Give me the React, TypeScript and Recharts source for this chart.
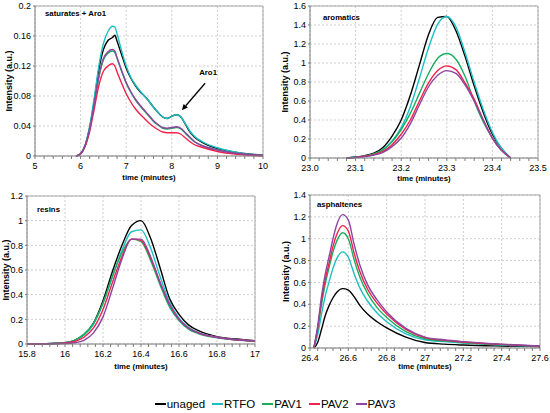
import React from 'react'
import { LineChart, Line, XAxis, YAxis, CartesianGrid, ReferenceLine } from 'recharts'

const SERIES = ['unaged', 'RTFO', 'PAV1', 'PAV2', 'PAV3']
const COLORS = ['#000000', '#1dbfc4', '#19ad5c', '#f2204c', '#8e44a0']
const FONT = '"Liberation Sans", Arial, sans-serif'

// saturates + Aro1
const satTime = [5.9, 6.0, 6.1, 6.2, 6.3, 6.4, 6.5, 6.6, 6.7, 6.75, 6.8, 6.9, 7.0, 7.1, 7.2, 7.3, 7.4, 7.5, 7.6, 7.7, 7.8, 7.9, 8.0, 8.1, 8.2, 8.3, 8.4, 8.5, 8.7, 9.0, 9.5, 10]
const satUnaged = [0, 0.003, 0.014, 0.038, 0.074, 0.115, 0.142, 0.154, 0.158, 0.161, 0.153, 0.135, 0.117, 0.104, 0.094, 0.086, 0.08, 0.073, 0.065, 0.058, 0.052, 0.05, 0.053, 0.055, 0.052, 0.042, 0.032, 0.025, 0.017, 0.01, 0.004, 0.001]
const satRtfo = [0, 0.003, 0.015, 0.04, 0.078, 0.12, 0.15, 0.166, 0.173, 0.172, 0.163, 0.14, 0.12, 0.105, 0.095, 0.087, 0.08, 0.073, 0.065, 0.058, 0.052, 0.05, 0.053, 0.055, 0.052, 0.043, 0.033, 0.026, 0.018, 0.011, 0.004, 0.001]
const satPav1 = [0, 0.003, 0.014, 0.036, 0.07, 0.105, 0.128, 0.137, 0.14, 0.138, 0.13, 0.113, 0.097, 0.085, 0.075, 0.067, 0.06, 0.053, 0.046, 0.041, 0.037, 0.036, 0.037, 0.038, 0.036, 0.03, 0.024, 0.019, 0.013, 0.008, 0.003, 0.001]
const satPav2 = [0, 0.003, 0.013, 0.033, 0.063, 0.094, 0.113, 0.12, 0.123, 0.12, 0.112, 0.097, 0.083, 0.072, 0.063, 0.056, 0.05, 0.044, 0.039, 0.035, 0.032, 0.031, 0.031, 0.031, 0.029, 0.024, 0.019, 0.015, 0.011, 0.006, 0.002, 0]
const satPav3 = [0, 0.003, 0.014, 0.036, 0.07, 0.106, 0.13, 0.139, 0.142, 0.14, 0.131, 0.114, 0.098, 0.086, 0.076, 0.068, 0.061, 0.054, 0.047, 0.042, 0.038, 0.037, 0.038, 0.039, 0.037, 0.031, 0.025, 0.019, 0.013, 0.008, 0.003, 0.001]
const satXTicks = [5, 6, 7, 8, 9, 10]
const satYTicks = [0, 0.04, 0.08, 0.12, 0.16, 0.2]

// aromatics
const aroTime = [23.08, 23.1, 23.12, 23.14, 23.16, 23.18, 23.2, 23.22, 23.24, 23.26, 23.28, 23.3, 23.32, 23.34, 23.36, 23.38, 23.4, 23.42, 23.44]
const aroUnaged = [0, 0.01, 0.025, 0.05, 0.11, 0.23, 0.4, 0.66, 0.98, 1.3, 1.48, 1.49, 1.34, 1.07, 0.76, 0.48, 0.25, 0.1, 0]
const aroRtfo = [0, 0.008, 0.02, 0.042, 0.09, 0.18, 0.32, 0.54, 0.84, 1.16, 1.41, 1.49, 1.38, 1.11, 0.8, 0.51, 0.27, 0.1, 0]
const aroPav1 = [0, 0.008, 0.02, 0.04, 0.085, 0.17, 0.3, 0.47, 0.68, 0.89, 1.05, 1.1, 1.04, 0.86, 0.6, 0.38, 0.21, 0.08, 0]
const aroPav2 = [0, 0.007, 0.018, 0.036, 0.07, 0.14, 0.25, 0.4, 0.6, 0.79, 0.92, 0.97, 0.93, 0.79, 0.62, 0.4, 0.21, 0.08, 0]
const aroPav3 = [0, 0.006, 0.015, 0.03, 0.06, 0.12, 0.21, 0.36, 0.56, 0.75, 0.87, 0.92, 0.89, 0.77, 0.6, 0.4, 0.21, 0.08, 0]
const aroXTicks = [23.0, 23.1, 23.2, 23.3, 23.4, 23.5]
const aroYTicks = [0, 0.2, 0.4, 0.6, 0.8, 1, 1.2, 1.4, 1.6]

// resins
const resTime = [15.8, 15.9, 16.0, 16.05, 16.1, 16.15, 16.2, 16.25, 16.3, 16.35, 16.4, 16.45, 16.5, 16.55, 16.6, 16.65, 16.7, 16.8, 16.9, 17.0]
const resUnaged = [0, 0.002, 0.01, 0.03, 0.075, 0.17, 0.35, 0.59, 0.8, 0.96, 1.0, 0.86, 0.62, 0.37, 0.24, 0.155, 0.11, 0.06, 0.04, 0.027]
const resRtfo = [0, 0.002, 0.01, 0.03, 0.075, 0.16, 0.33, 0.55, 0.76, 0.91, 0.925, 0.78, 0.55, 0.34, 0.21, 0.135, 0.095, 0.055, 0.035, 0.025]
const resPav1 = [0, 0.002, 0.01, 0.03, 0.08, 0.17, 0.33, 0.55, 0.74, 0.85, 0.83, 0.68, 0.48, 0.3, 0.19, 0.12, 0.085, 0.05, 0.032, 0.022]
const resPav2 = [0, 0.002, 0.008, 0.02, 0.055, 0.13, 0.28, 0.5, 0.71, 0.85, 0.84, 0.7, 0.5, 0.32, 0.2, 0.13, 0.09, 0.055, 0.035, 0.025]
const resPav3 = [0, 0.001, 0.004, 0.01, 0.03, 0.09, 0.22, 0.45, 0.69, 0.85, 0.85, 0.71, 0.5, 0.32, 0.2, 0.13, 0.09, 0.055, 0.035, 0.025]
const resXTicks = [15.8, 16, 16.2, 16.4, 16.6, 16.8, 17]
const resYTicks = [0, 0.2, 0.4, 0.6, 0.8, 1, 1.2]

// asphaltenes
const asphTime = [26.42, 26.44, 26.46, 26.48, 26.5, 26.52, 26.54, 26.57, 26.6, 26.63, 26.66, 26.7, 26.75, 26.8, 26.9, 27.0, 27.1, 27.2, 27.4, 27.6]
const asphUnaged = [0, 0.05, 0.17, 0.3, 0.39, 0.46, 0.51, 0.543, 0.53, 0.47, 0.39, 0.31, 0.24, 0.185, 0.1, 0.05, 0.035, 0.027, 0.018, 0.012]
const asphRtfo = [0, 0.12, 0.31, 0.48, 0.61, 0.73, 0.82, 0.88, 0.83, 0.68, 0.55, 0.43, 0.32, 0.24, 0.13, 0.075, 0.058, 0.045, 0.028, 0.015]
const asphPav1 = [0, 0.17, 0.4, 0.59, 0.74, 0.88, 0.98, 1.055, 1.0, 0.81, 0.65, 0.5, 0.37, 0.28, 0.15, 0.085, 0.065, 0.05, 0.03, 0.016]
const asphPav2 = [0, 0.18, 0.43, 0.63, 0.78, 0.93, 1.04, 1.12, 1.07, 0.87, 0.7, 0.54, 0.41, 0.31, 0.17, 0.095, 0.07, 0.055, 0.033, 0.017]
const asphPav3 = [0, 0.2, 0.47, 0.68, 0.84, 1.0, 1.13, 1.22, 1.17, 0.95, 0.76, 0.58, 0.44, 0.33, 0.18, 0.1, 0.075, 0.058, 0.035, 0.018]
const asphXTicks = [26.4, 26.6, 26.8, 27, 27.2, 27.4, 27.6]
const asphYTicks = [0, 0.2, 0.4, 0.6, 0.8, 1, 1.2, 1.4]

function buildRows(time: number[], series: number[][]) {
  return time.map((t, i) => {
    const row: any = { t }
    SERIES.forEach((name, k) => { row[name] = series[k][i] })
    return row
  })
}

// 4 minor divisions between major ticks
function withMinor(majors: number[]) {
  const out: number[] = []
  for (let i = 0; i < majors.length - 1; i++) {
    const step = (majors[i + 1] - majors[i]) / 5
    for (let k = 0; k < 5; k++) out.push(+(majors[i] + k * step).toFixed(4))
  }
  out.push(majors[majors.length - 1])
  return out
}

const AroArrow = (p: any) => {
  const { x1, y1, x2, y2 } = p
  const a = Math.atan2(y2 - y1, x2 - x1)
  const hl = 6, hw = 2.8
  const bx = x2 - hl * Math.cos(a), by = y2 - hl * Math.sin(a)
  const pts = [
    `${x2},${y2}`,
    `${bx + hw * Math.sin(a)},${by - hw * Math.cos(a)}`,
    `${bx - hw * Math.sin(a)},${by + hw * Math.cos(a)}`,
  ].join(' ')
  return (
    <g>
      <line x1={x1} y1={y1} x2={bx} y2={by} stroke="#000" strokeWidth={1.3} />
      <polygon points={pts} fill="#000" />
      <text x={x1 + 3} y={y1 - 8} textAnchor="middle" fontSize={7.8} fontWeight="bold" fontFamily={FONT} fill="#000">Aro1</text>
    </g>
  )
}

interface PanelProps {
  left: number
  top: number
  rows: any[]
  xMajor: number[]
  xFmt: (v: number) => string
  yTicks: number[]
  yWidth: number
  margin: { top: number; right: number; left: number; bottom: number }
  xAxisH: number
  xLabelOffset: number
  yLabelOffset: number
  title: string
  titleX: number
  titleY: number
  children?: React.ReactNode
}

function Panel(p: PanelProps) {
  const xMin = p.xMajor[0]
  const xMax = p.xMajor[p.xMajor.length - 1]
  const yMax = p.yTicks[p.yTicks.length - 1]
  const renderTick = (props: any) => {
    const { x, y, payload } = props
    const m = p.xMajor.find((v) => Math.abs(v - payload.value) < 1e-6)
    if (m === undefined) return <g />
    return (
      <text x={x} y={y} dy={10.4} textAnchor="middle" fontSize={9} fill="#000" fontFamily={FONT}>
        {p.xFmt(m)}
      </text>
    )
  }
  return (
    <div style={{ position: 'absolute', left: p.left, top: p.top, width: 275, height: 190 }}>
      <LineChart width={275} height={190} data={p.rows} margin={p.margin}>
        <CartesianGrid stroke="#cfcfcf" strokeDasharray="2 2" verticalValues={p.xMajor} horizontalValues={p.yTicks} />
        <XAxis
          dataKey="t"
          type="number"
          domain={[xMin, xMax]}
          ticks={withMinor(p.xMajor)}
          interval={0}
          allowDataOverflow
          height={p.xAxisH}
          stroke="#7a7a7a"
          tickSize={3}
          tickMargin={0}
          tick={renderTick}
          label={{ value: 'time (minutes)', position: 'insideBottom', offset: p.xLabelOffset, style: { fontSize: 7.8, fontWeight: 'bold', fill: '#000', fontFamily: FONT } }}
        />
        <YAxis
          type="number"
          domain={[0, yMax]}
          ticks={p.yTicks}
          interval={0}
          width={p.yWidth}
          stroke="#7a7a7a"
          tickSize={2}
          tickMargin={2}
          tick={{ fontSize: 9, fill: '#000', fontFamily: FONT }}
          label={{ value: 'Intensity (a.u.)', angle: -90, position: 'insideLeft', offset: p.yLabelOffset, style: { textAnchor: 'middle', fontSize: 9, fontWeight: 'bold', fill: '#000', fontFamily: FONT } }}
        />
        <ReferenceLine y={yMax} stroke="#a6a6a6" strokeWidth={1} />
        <ReferenceLine x={xMax} stroke="#a6a6a6" strokeWidth={1} />
        {SERIES.map((name, k) => (
          <Line
            key={name}
            type="monotone"
            dataKey={name}
            stroke={COLORS[k]}
            strokeWidth={1.4}
            dot={false}
            isAnimationActive={false}
          />
        ))}
        {p.children}
      </LineChart>
      <div style={{ position: 'absolute', left: p.titleX, top: p.titleY, fontFamily: FONT, fontSize: 7.8, fontWeight: 'bold', lineHeight: 1, whiteSpace: 'nowrap' }}>
        {p.title}
      </div>
    </div>
  )
}

const satRows = buildRows(satTime, [satUnaged, satRtfo, satPav1, satPav2, satPav3])
const aroRows = buildRows(aroTime, [aroUnaged, aroRtfo, aroPav1, aroPav2, aroPav3])
const resRows = buildRows(resTime, [resUnaged, resRtfo, resPav1, resPav2, resPav3])
const asphRows = buildRows(asphTime, [asphUnaged, asphRtfo, asphPav1, asphPav2, asphPav3])

export default function App() {
  return (
    <div style={{ position: 'absolute', left: 0, top: 0, width: 550, height: 413, background: '#fff', overflow: 'hidden' }}>
      <Panel
        left={0} top={0} rows={satRows} xMajor={satXTicks} xFmt={(v) => String(v)}
        yTicks={satYTicks} yWidth={35} margin={{ top: 6, right: 12, left: 0, bottom: 0 }}
        xAxisH={34} xLabelOffset={10} yLabelOffset={9}
        title="saturates + Aro1" titleX={45} titleY={10}
      >
        <ReferenceLine
          segment={[{ x: 8.73, y: 0.097 }, { x: 8.22, y: 0.061 }]}
          shape={AroArrow}
        />
      </Panel>
      <Panel
        left={275} top={0} rows={aroRows} xMajor={aroXTicks} xFmt={(v) => v.toFixed(1)}
        yTicks={aroYTicks} yWidth={35} margin={{ top: 6, right: 12, left: 0, bottom: 0 }}
        xAxisH={32} xLabelOffset={9} yLabelOffset={10}
        title="aromatics" titleX={48} titleY={14}
      />
      <Panel
        left={0} top={190} rows={resRows} xMajor={resXTicks} xFmt={(v) => String(v)}
        yTicks={resYTicks} yWidth={27} margin={{ top: 6, right: 20, left: 0, bottom: 0 }}
        xAxisH={36} xLabelOffset={11} yLabelOffset={6}
        title="resins" titleX={37} titleY={16}
      />
      <Panel
        left={275} top={190} rows={asphRows} xMajor={asphXTicks} xFmt={(v) => String(v)}
        yTicks={asphYTicks} yWidth={35} margin={{ top: 5, right: 10, left: 0, bottom: 0 }}
        xAxisH={32} xLabelOffset={11} yLabelOffset={11}
        title="asphaltenes" titleX={42} titleY={11}
      />
      <div style={{ position: 'absolute', left: 0, top: 397, width: 550, display: 'flex', justifyContent: 'center', gap: 7, fontFamily: FONT, fontSize: 11.5, lineHeight: '14px' }}>
        {SERIES.map((name, k) => (
          <div key={name} style={{ display: 'flex', alignItems: 'center' }}>
            <span style={{ display: 'inline-block', width: 11, height: 2, background: COLORS[k], marginRight: 1 }} />
            <span>{name}</span>
          </div>
        ))}
      </div>
    </div>
  )
}
